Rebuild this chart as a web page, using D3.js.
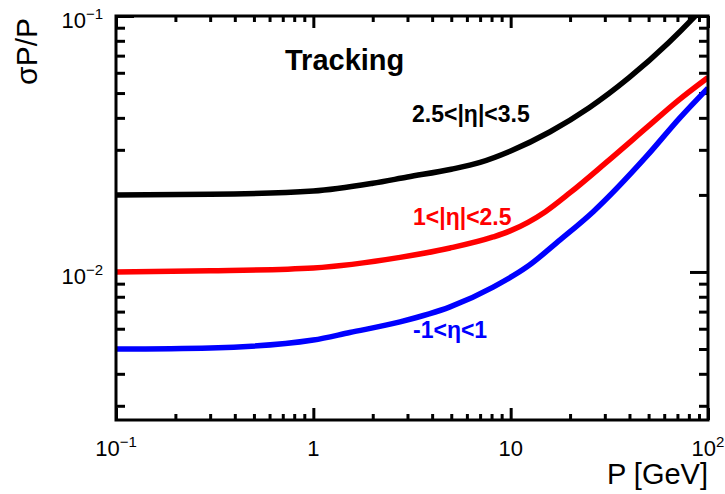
<!DOCTYPE html>
<html>
<head>
<meta charset="utf-8">
<script src="https://cdn.jsdelivr.net/npm/d3@7"></script>
<style>
body { margin: 0; background: #fff; }
text { font-family: "Liberation Sans", Arial, Helvetica, sans-serif; }
</style>
</head>
<body>
<div id="chart"></div>
<script>
// values (P in GeV, sigmaP/P)
var pBlack = [0.1, 0.3, 1, 2, 3, 5, 7, 10, 15.85, 25.1, 39.8, 63.1, 85.1, 100];
var vBlack = [0.0200, 0.0201, 0.0207, 0.0222, 0.0235, 0.0252, 0.0268, 0.0297, 0.0353, 0.0439, 0.0574, 0.0786, 0.099, 0.113];

var pRed = [0.1, 0.3, 1, 2.75, 4.93, 8.15, 10, 15, 20, 30, 50, 70, 100];
var vRed = [0.0100, 0.0101, 0.01037, 0.0114, 0.0124, 0.0137, 0.0145, 0.0172, 0.0204, 0.0265, 0.0372, 0.0465, 0.0575];

var pBlue = [0.1, 0.3, 1, 1.53, 2.75, 4.93, 8.15, 12.1, 17.8, 26.2, 49, 72, 100];
var vBlue = [0.0050, 0.00505, 0.00542, 0.0058, 0.00638, 0.0073, 0.00873, 0.01047, 0.01334, 0.0172, 0.0284, 0.0400, 0.0523];

var xMajor = [0.1, 1, 10, 100];
var xLabels = ["10|-1", "1", "10", "10|2"];
var yMajor = [0.01, 0.1];
var yLabels = ["10|-2", "10|-1"];

//width and height
var w = 725;
var h = 494;
var fL = 116, fR = 708, fT = 16, fB = 420;

var x = d3.scaleLog().domain([0.1, 100]).range([fL, fR]);
var y = d3.scaleLog().domain([0.00264, 0.1]).range([fB, fT]);

var xMinor = [];
var yMinor = [];
[0.1, 1, 10].forEach(function(d){
    for (var k = 2; k <= 9; k++) xMinor.push(d * k);
});
[0.001, 0.01].forEach(function(d){
    for (var k = 2; k <= 9; k++) {
        var v = d * k;
        if (v > 0.00264 && v < 0.1) yMinor.push(v);
    }
});

var svg = d3.select("#chart")
            .append("svg")
            .attr("width", w)
            .attr("height", h);

svg.append("defs").append("clipPath")
    .attr("id", "frame")
    .append("rect")
    .attr("x", fL).attr("y", fT)
    .attr("width", fR - fL).attr("height", fB - fT);

function ticks(axis, tx, ty) {
    var g = svg.append("g")
        .attr("transform", "translate(" + tx + "," + ty + ")")
        .call(axis);
    g.select(".domain").remove();
    g.selectAll("line").attr("stroke", "#000").attr("stroke-width", 3);
}

ticks(d3.axisBottom(x).tickValues(xMajor).tickSize(-12).tickFormat(""), 0, fB);
ticks(d3.axisBottom(x).tickValues(xMinor).tickSize(-6).tickFormat(""), 0, fB);
ticks(d3.axisTop(x).tickValues(xMajor).tickSize(-12).tickFormat(""), 0, fT);
ticks(d3.axisTop(x).tickValues(xMinor).tickSize(-6).tickFormat(""), 0, fT);
ticks(d3.axisLeft(y).tickValues(yMajor).tickSize(-18).tickFormat(""), fL, 0);
ticks(d3.axisLeft(y).tickValues(yMinor).tickSize(-9).tickFormat(""), fL, 0);
ticks(d3.axisRight(y).tickValues(yMajor).tickSize(-18).tickFormat(""), fR, 0);
ticks(d3.axisRight(y).tickValues(yMinor).tickSize(-9).tickFormat(""), fR, 0);

var line = d3.line()
    .x(function(d){ return x(d[0]); })
    .y(function(d){ return y(d[1]); })
    .curve(d3.curveMonotoneX);

var series = [
    {p: pBlack, v: vBlack, c: "#000000"},
    {p: pRed, v: vRed, c: "#ff0000"},
    {p: pBlue, v: vBlue, c: "#0000ff"}
];

var plot = svg.append("g").attr("clip-path", "url(#frame)");
series.forEach(function(s){
    plot.append("path")
        .attr("d", line(d3.zip(s.p, s.v)))
        .attr("fill", "none")
        .attr("stroke", s.c)
        .attr("stroke-width", 5.5);
});

svg.append("rect")
    .attr("x", fL).attr("y", fT)
    .attr("width", fR - fL).attr("height", fB - fT)
    .attr("fill", "none")
    .attr("stroke", "#000")
    .attr("stroke-width", 3);

function powLabel(t, str) {
    var parts = str.split("|");
    t.append("tspan").text(parts[0]);
    if (parts.length > 1) {
        t.append("tspan")
            .attr("font-size", 15)
            .attr("dy", -9)
            .text(parts[1].replace("-", "\u2212"));
    }
}

xMajor.forEach(function(d, i){
    var t = svg.append("text")
        .attr("x", x(d))
        .attr("y", 456)
        .attr("font-size", 22)
        .attr("text-anchor", "middle");
    powLabel(t, xLabels[i]);
});

yMajor.forEach(function(d, i){
    var t = svg.append("text")
        .attr("x", 103)
        .attr("y", y(d) + 12)
        .attr("font-size", 22)
        .attr("text-anchor", "end");
    powLabel(t, yLabels[i]);
});

svg.append("text")
    .attr("x", fR)
    .attr("y", 484)
    .attr("font-size", 29)
    .attr("text-anchor", "end")
    .text("P [GeV]");

svg.append("text")
    .attr("transform", "translate(37,18) rotate(-90)")
    .attr("font-size", 30)
    .attr("text-anchor", "end")
    .text("\u03c3P/P");

svg.append("text")
    .attr("x", 285).attr("y", 70)
    .attr("font-size", 29)
    .attr("font-weight", "bold")
    .text("Tracking");

svg.append("text")
    .attr("x", 412).attr("y", 122)
    .attr("font-size", 23)
    .attr("font-weight", "bold")
    .attr("fill", "#000")
    .text("2.5<|\u03b7|<3.5");

svg.append("text")
    .attr("x", 413).attr("y", 225)
    .attr("font-size", 23)
    .attr("font-weight", "bold")
    .attr("fill", "#ff0000")
    .text("1<|\u03b7|<2.5");

svg.append("text")
    .attr("x", 413).attr("y", 338)
    .attr("font-size", 23)
    .attr("font-weight", "bold")
    .attr("fill", "#0000ff")
    .text("-1<\u03b7<1");
</script>
</body>
</html>
